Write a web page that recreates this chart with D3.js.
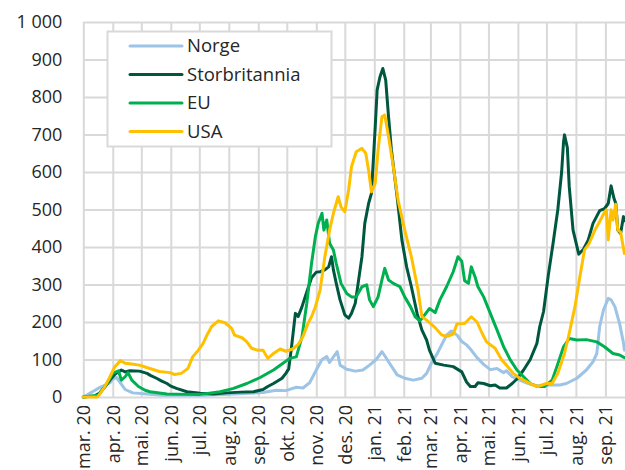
<!DOCTYPE html>
<html>
<head>
<meta charset="utf-8">
<script src="https://cdn.jsdelivr.net/npm/d3@7"></script>
<style>
  html, body { margin: 0; padding: 0; background: #fff; }
  svg { display: block; font-family: "Open Sans", "Noto Sans", sans-serif; }
</style>
</head>
<body>
<svg id="chart" width="625" height="470"></svg>
<script>
// Seriesnavn og farger (i forklaringens rekkefølge)
const seriesNames = ["Norge", "Storbritannia", "EU", "USA"];
const seriesColors = ["#9DC3E6", "#00573F", "#00B050", "#FFC000"];

// Månedsetiketter på x-aksen
const monthLabels = ["mar. 20", "apr. 20", "mai. 20", "jun. 20", "jul. 20", "aug. 20",
  "sep. 20", "okt. 20", "nov. 20", "des. 20", "jan. 21", "feb. 21", "mar. 21",
  "apr. 21", "mai. 21", "jun. 21", "jul. 21", "aug. 21", "sep. 21"];

// Verdier på y-aksen
const yTicks = [0, 100, 200, 300, 400, 500, 600, 700, 800, 900, 1000];

// Smittetall per dato
const norge = [
  ["2020-03-01",0],["2020-03-12",16],["2020-03-18",25],["2020-03-26",34],["2020-03-29",38],
  ["2020-04-01",48],["2020-04-05",52],["2020-04-09",38],["2020-04-14",20],["2020-04-22",11],
  ["2020-05-07",8],["2020-05-21",5],["2020-06-18",5],["2020-07-09",5],["2020-08-06",8],
  ["2020-08-23",10],["2020-09-06",12],["2020-09-20",18],["2020-09-30",17],["2020-10-11",26],
  ["2020-10-18",24],["2020-10-25",38],["2020-11-01",72],["2020-11-07",100],["2020-11-12",108],
  ["2020-11-15",92],["2020-11-19",107],["2020-11-23",121],["2020-11-26",85],["2020-12-03",74],
  ["2020-12-12",69],["2020-12-20",72],["2020-12-27",85],["2021-01-03",100],["2021-01-09",121],
  ["2021-01-12",110],["2021-01-17",90],["2021-01-25",59],["2021-02-02",50],["2021-02-11",45],
  ["2021-02-20",50],["2021-02-25",63],["2021-03-02",90],["2021-03-08",115],["2021-03-13",140],
  ["2021-03-18",165],["2021-03-23",176],["2021-03-29",165],["2021-04-03",148],["2021-04-08",139],
  ["2021-04-12",128],["2021-04-19",105],["2021-04-26",87],["2021-05-03",73],["2021-05-10",76],
  ["2021-05-17",65],["2021-05-20",70],["2021-05-26",54],["2021-06-03",45],["2021-06-12",36],
  ["2021-06-21",30],["2021-07-05",32],["2021-07-15",32],["2021-07-22",36],["2021-08-02",50],
  ["2021-08-12",72],["2021-08-19",94],["2021-08-23",116],["2021-08-26",188],["2021-08-30",232],
  ["2021-09-04",263],["2021-09-07",259],["2021-09-11",241],["2021-09-16",195],["2021-09-20",145],
  ["2021-09-21",125]
];

const storbritannia = [
  ["2020-03-01",0],["2020-03-13",3],["2020-03-18",10],["2020-03-24",28],["2020-03-29",45],
  ["2020-04-03",60],["2020-04-07",67],["2020-04-10",72],["2020-04-14",67],["2020-04-19",70],
  ["2020-04-29",69],["2020-05-07",63],["2020-05-11",57],["2020-05-17",50],["2020-05-22",43],
  ["2020-05-28",36],["2020-06-01",29],["2020-06-07",23],["2020-06-18",14],["2020-07-02",10],
  ["2020-07-16",8],["2020-07-30",11],["2020-08-13",13],["2020-08-27",14],["2020-09-06",20],
  ["2020-09-11",28],["2020-09-17",36],["2020-09-26",50],["2020-09-30",63],["2020-10-03",75],
  ["2020-10-06",134],["2020-10-10",223],["2020-10-13",215],["2020-10-17",241],["2020-10-22",280],
  ["2020-10-27",318],["2020-11-01",333],["2020-11-05",334],["2020-11-10",339],["2020-11-14",347],
  ["2020-11-17",374],["2020-11-19",339],["2020-11-22",303],["2020-11-26",259],["2020-12-01",219],
  ["2020-12-05",210],["2020-12-08",223],["2020-12-12",250],["2020-12-15",303],["2020-12-19",374],
  ["2020-12-22",463],["2020-12-26",516],["2020-12-29",543],["2021-01-02",721],["2021-01-04",819],
  ["2021-01-07",854],["2021-01-10",876],["2021-01-13",845],["2021-01-16",747],["2021-01-19",659],
  ["2021-01-25",534],["2021-01-30",419],["2021-02-04",347],["2021-02-09",294],["2021-02-15",223],
  ["2021-02-20",179],["2021-02-25",152],["2021-02-28",125],["2021-03-06",90],["2021-03-15",85],
  ["2021-03-25",81],["2021-04-03",67],["2021-04-08",40],["2021-04-12",28],["2021-04-17",28],
  ["2021-04-20",38],["2021-04-26",36],["2021-05-03",30],["2021-05-08",32],["2021-05-13",24],
  ["2021-05-20",24],["2021-05-26",36],["2021-05-31",48],["2021-06-07",72],["2021-06-14",100],
  ["2021-06-21",143],["2021-06-24",188],["2021-06-28",228],["2021-07-03",325],["2021-07-08",410],
  ["2021-07-13",500],["2021-07-17",600],["2021-07-19",680],["2021-07-20",699],["2021-07-23",665],
  ["2021-07-25",561],["2021-07-29",445],["2021-08-04",381],["2021-08-09",394],["2021-08-14",419],
  ["2021-08-19",463],["2021-08-26",497],["2021-08-31",502],["2021-09-04",516],["2021-09-07",563],
  ["2021-09-10",530],["2021-09-12",516],["2021-09-14",445],["2021-09-17",436],["2021-09-20",481],
  ["2021-09-21",470]
];

const eu = [
  ["2020-03-01",0],["2020-03-17",5],["2020-03-26",36],["2020-04-01",63],["2020-04-07",70],
  ["2020-04-10",45],["2020-04-14",54],["2020-04-17",65],["2020-04-21",45],["2020-04-28",28],
  ["2020-05-05",18],["2020-05-10",14],["2020-05-28",8],["2020-06-18",7],["2020-07-02",7],
  ["2020-07-23",14],["2020-08-06",23],["2020-08-20",36],["2020-09-03",52],["2020-09-17",72],
  ["2020-09-27",90],["2020-10-04",103],["2020-10-11",107],["2020-10-17",161],["2020-10-22",250],
  ["2020-10-27",356],["2020-10-31",427],["2020-11-03",463],["2020-11-07",490],["2020-11-09",445],
  ["2020-11-12",472],["2020-11-15",410],["2020-11-19",392],["2020-11-22",356],["2020-11-27",303],
  ["2020-12-03",276],["2020-12-08",267],["2020-12-13",267],["2020-12-19",294],["2020-12-24",299],
  ["2020-12-27",259],["2020-12-31",241],["2021-01-05",267],["2021-01-09",312],["2021-01-12",343],
  ["2021-01-16",312],["2021-01-21",303],["2021-01-28",294],["2021-02-02",267],["2021-02-08",241],
  ["2021-02-13",214],["2021-02-18",203],["2021-02-23",219],["2021-02-28",236],["2021-03-06",225],
  ["2021-03-11",259],["2021-03-18",294],["2021-03-25",334],["2021-03-30",374],["2021-04-03",362],
  ["2021-04-06",310],["2021-04-10",303],["2021-04-13",347],["2021-04-17",320],["2021-04-20",294],
  ["2021-04-26",267],["2021-05-03",223],["2021-05-10",179],["2021-05-17",134],["2021-05-24",99],
  ["2021-05-31",72],["2021-06-07",54],["2021-06-14",36],["2021-06-21",28],["2021-06-29",28],
  ["2021-07-07",45],["2021-07-12",81],["2021-07-19",134],["2021-07-25",156],["2021-08-02",152],
  ["2021-08-12",153],["2021-08-23",147],["2021-08-31",134],["2021-09-09",116],["2021-09-16",112],
  ["2021-09-21",105]
];

const usa = [
  ["2020-03-01",0],["2020-03-16",0],["2020-03-23",25],["2020-03-29",54],["2020-04-03",80],
  ["2020-04-09",97],["2020-04-14",90],["2020-04-21",88],["2020-04-29",85],["2020-05-10",76],
  ["2020-05-20",68],["2020-05-31",65],["2020-06-05",60],["2020-06-12",63],["2020-06-19",76],
  ["2020-06-24",107],["2020-06-30",125],["2020-07-05",143],["2020-07-09",165],["2020-07-14",188],
  ["2020-07-21",203],["2020-07-28",198],["2020-08-04",183],["2020-08-07",165],["2020-08-15",158],
  ["2020-08-20",147],["2020-08-25",130],["2020-08-31",125],["2020-09-06",125],["2020-09-11",103],
  ["2020-09-17",116],["2020-09-24",128],["2020-09-30",122],["2020-10-07",128],["2020-10-13",140],
  ["2020-10-18",161],["2020-10-23",195],["2020-10-27",214],["2020-10-31",240],["2020-11-05",285],
  ["2020-11-10",374],["2020-11-15",445],["2020-11-19",490],["2020-11-24",534],["2020-11-27",507],
  ["2020-12-01",494],["2020-12-05",552],["2020-12-08",614],["2020-12-13",654],["2020-12-19",663],
  ["2020-12-23",650],["2020-12-26",605],["2020-12-29",547],["2021-01-02",570],["2021-01-05",659],
  ["2021-01-09",747],["2021-01-12",752],["2021-01-16",694],["2021-01-21",614],["2021-01-26",525],
  ["2021-02-02",445],["2021-02-09",374],["2021-02-16",285],["2021-02-20",215],["2021-02-25",205],
  ["2021-03-06",185],["2021-03-13",165],["2021-03-19",162],["2021-03-25",168],["2021-03-29",195],
  ["2021-04-06",196],["2021-04-13",214],["2021-04-19",200],["2021-04-24",172],["2021-04-29",147],
  ["2021-05-08",130],["2021-05-15",99],["2021-05-20",85],["2021-05-27",63],["2021-06-03",50],
  ["2021-06-10",41],["2021-06-17",32],["2021-06-22",28],["2021-07-01",36],["2021-07-07",36],
  ["2021-07-13",63],["2021-07-20",116],["2021-07-25",170],["2021-07-31",241],["2021-08-05",318],
  ["2021-08-10",392],["2021-08-15",410],["2021-08-21",445],["2021-08-26",468],["2021-08-31",492],
  ["2021-09-02",499],["2021-09-04",419],["2021-09-07",499],["2021-09-09",472],["2021-09-12",514],
  ["2021-09-14",445],["2021-09-17",440],["2021-09-21",383]
];

const seriesData = [norge, storbritannia, eu, usa];

const parse = d3.timeParse("%Y-%m-%d");
const svg = d3.select("#chart");

const plot = { left: 83.3, right: 624.4, top: 22, bottom: 397 };

const x = d3.scaleTime()
  .domain([parse("2020-03-01"), parse("2021-09-21")])
  .range([plot.left, plot.right]);

const y = d3.scaleLinear()
  .domain([0, 1000])
  .range([plot.bottom, plot.top]);

const monthTicks = d3.timeMonth.range(parse("2020-03-01"), parse("2021-09-02"));

const gridColor = "#D9D9D9";
const textColor = "#262626";

// Vannrette rutenettlinjer og y-etiketter
const yAxis = d3.axisLeft(y)
  .tickValues(yTicks)
  .tickSize(-(plot.right - plot.left + 1))
  .tickPadding(21)
  .tickFormat(v => d3.format(",")(v).replace(/,/g, " "));

const gy = svg.append("g")
  .attr("transform", `translate(${plot.left},0)`)
  .call(yAxis);
gy.select(".domain").remove();
gy.selectAll(".tick line").attr("stroke", gridColor).attr("stroke-width", 2);
gy.selectAll(".tick text")
  .attr("fill", textColor)
  .style("font-size", "18px")
  .style("font-family", "'Open Sans', sans-serif");

// Loddrette rutenettlinjer ved hvert månedsskifte
const xGrid = d3.axisBottom(x)
  .tickValues(monthTicks)
  .tickSize(-(plot.bottom - plot.top))
  .tickFormat("");
const gxg = svg.append("g")
  .attr("transform", `translate(0,${plot.bottom})`)
  .call(xGrid);
gxg.select(".domain").remove();
gxg.selectAll(".tick line").attr("stroke", gridColor).attr("stroke-width", 2);

// Månedsetiketter, rotert
const xAxis = d3.axisBottom(x)
  .tickValues(monthTicks)
  .tickSize(0)
  .tickFormat((d, i) => monthLabels[i]);
const gx = svg.append("g")
  .attr("transform", `translate(0,${plot.bottom})`)
  .call(xAxis);
gx.select(".domain").remove();
gx.selectAll(".tick text")
  .attr("fill", textColor)
  .style("font-size", "18px")
  .style("font-family", "'Open Sans', sans-serif")
  .attr("transform", "rotate(-90)")
  .attr("text-anchor", "end")
  .attr("x", -8)
  .attr("y", 0)
  .attr("dy", "0.35em");

// Linjene
const line = d3.line()
  .x(d => x(parse(d[0])))
  .y(d => y(d[1]));

seriesData.forEach((data, i) => {
  svg.append("path")
    .datum(data)
    .attr("fill", "none")
    .attr("stroke", seriesColors[i])
    .attr("stroke-width", 3)
    .attr("stroke-linejoin", "round")
    .attr("stroke-linecap", "round")
    .attr("d", line);
});

// Forklaring
const legend = svg.append("g");
legend.append("rect")
  .attr("x", 107.5).attr("y", 31.5)
  .attr("width", 224).attr("height", 115)
  .attr("fill", "#fff")
  .attr("stroke", gridColor)
  .attr("stroke-width", 2);

const rowY = [46, 74.5, 103, 131.5];
seriesNames.forEach((name, i) => {
  legend.append("line")
    .attr("x1", 130).attr("x2", 182)
    .attr("y1", rowY[i]).attr("y2", rowY[i])
    .attr("stroke", seriesColors[i])
    .attr("stroke-width", 3)
    .attr("stroke-linecap", "round");
  legend.append("text")
    .attr("x", 187).attr("y", rowY[i])
    .attr("dy", "0.35em")
    .attr("fill", textColor)
    .style("font-size", "18.5px")
    .style("font-family", "'Open Sans', sans-serif")
    .text(name);
});
</script>
</body>
</html>
